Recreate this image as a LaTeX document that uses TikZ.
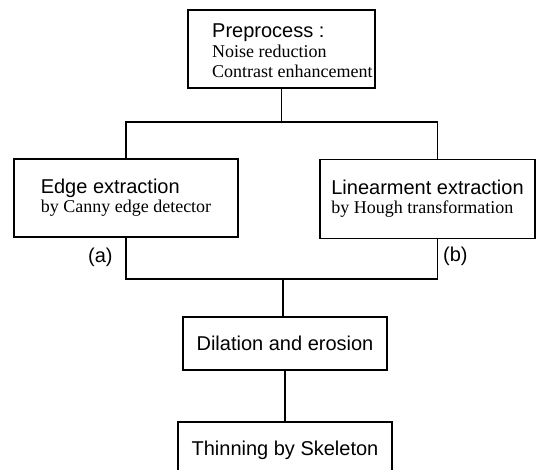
\documentclass[tikz,border=0pt]{standalone}
\usepackage{fontspec}
\setmainfont{Liberation Serif}
\setsansfont{Liberation Sans}
\begin{document}
\begin{tikzpicture}[x=1pt,y=-1pt,
  box/.style={draw=black, line width=1.9pt, rectangle, inner sep=0pt, align=left},
  conn/.style={draw=black, line width=1.9pt},
  twoline/.style={font=\rmfamily\fontsize{18}{20}\selectfont},
  hd/.style={font=\sffamily\fontsize{20}{20}\selectfont},
  tag/.style={font=\sffamily\fontsize{20}{20}\selectfont, inner sep=0pt}]
\useasboundingbox (0,0) rectangle (538,470);
\newcommand{\sfl}{\sffamily\fontsize{20}{20}\selectfont}
% boxes
\node[box, minimum width=187pt, minimum height=78pt] (pre) at (281.5,49) {};
\node[anchor=west, inner sep=0pt, align=left, twoline] (pretext) at (212,51)
  {{\sfl Preprocess :}\\Noise reduction\\Contrast enhancement};
\node[box, minimum width=224pt, minimum height=78pt, twoline] (edge) at (126,198)
  {{\sfl Edge extraction}\\[-1pt]by Canny edge detector};
\node[box, minimum width=215pt, minimum height=79pt, twoline] (lin) at (427.5,199)
  {{\sfl Linearment extraction}\\[-1pt]by Hough transformation};
\node[box, minimum width=204pt, minimum height=53pt, hd] (dil) at (285,343.5)
  {Dilation and erosion};
\node[box, minimum width=214pt, minimum height=56pt, hd] (thin) at (285,450)
  {Thinning by Skeleton};
% labels
\node[tag, anchor=base west] (la) at (88,263) {(a)};
\node[tag, anchor=base west] (lb) at (443,262) {(b)};
% connectors
\coordinate (up) at (283,122);
\coordinate (dn) at (283,279);
\coordinate (linN) at ([xshift=10pt]lin.north);
\coordinate (linS) at ([xshift=10pt]lin.south);
\draw[conn] (pre.south) -- (pre.south |- up);
\draw[conn] (edge.north) |- (up) -| (linN);
\draw[conn] (edge.south) |- (dn) -| (linS);
\draw[conn] (dn) -- (dn |- dil.north);
\draw[conn] (dil.south) -- (thin.north);
\end{tikzpicture}
\end{document}
